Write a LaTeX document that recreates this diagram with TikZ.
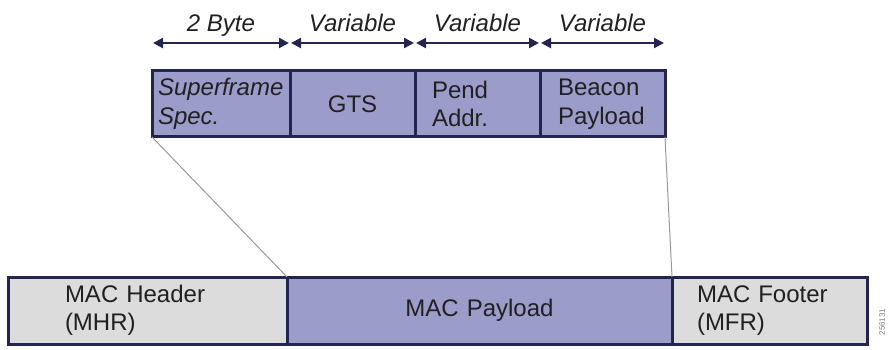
\documentclass[tikz,border=0pt]{standalone}
\usepackage{fontspec}
\setmainfont{Liberation Sans}
\usetikzlibrary{arrows.meta, positioning}

\definecolor{fieldblue}{HTML}{9C9CCB}
\definecolor{fieldgray}{HTML}{DCDCDC}
\definecolor{edgenavy}{HTML}{23244F}
\definecolor{textdark}{HTML}{202020}
\newcommand{\fieldfont}{\fontsize{24}{28.5}\selectfont}

\begin{document}
\begin{tikzpicture}[x=1pt, y=-1pt,
    field/.style={rectangle, draw=edgenavy, line width=3pt, fill=fieldblue, minimum height=66pt, inner ysep=2pt, outer sep=0pt, text=textdark, font=\fieldfont},
    header/.style={field, fill=fieldgray, minimum height=67pt},
    sizearrow/.style={{Triangle[length=10pt,width=10pt]}-{Triangle[length=10pt,width=10pt]}, line width=2.2pt, draw=edgenavy, shorten <=1pt, shorten >=1pt},
    sizelabel/.style={anchor=base, yshift=11pt, text=textdark, font={\fieldfont\itshape}},
    zoomline/.style={draw=gray!80, line width=1pt},
]
\useasboundingbox (0,0) rectangle (894,350);

% Beacon payload fields
\node[field, anchor=north west, text width=126pt, inner xsep=6pt, align=left, font={\fieldfont\itshape}] (sf) at (152,71) {Superframe\\Spec.};
\node[field, right=0pt of sf, text width=115pt, inner xsep=5pt, align=center] (gts) {GTS};
\node[field, right=0pt of gts, text width=91pt, inner xsep=17pt, align=left] (pend) {Pend\\Addr.};
\node[field, right=0pt of pend, text width=89pt, inner xsep=18pt, align=left] (beacon) {Beacon\\Payload};

% MAC frame
\node[header, anchor=north west, text width=165pt, inner xsep=57pt, align=left] (mhr) at (8,277) {MAC Header\\(MHR)};
\node[field, right=0pt of mhr, minimum height=67pt, text width=375pt, inner xsep=5pt, align=center] (payload) {MAC Payload};
\node[header, right=0pt of payload, text width=145pt, inner xsep=25pt, align=left] (mfr) {MAC Footer\\(MFR)};

% Field sizes
\coordinate (rule) at (0,43);
\draw[sizearrow] (sf.west |- rule) -- node[sizelabel] {2 Byte} (sf.east |- rule);
\draw[sizearrow] (gts.west |- rule) -- node[sizelabel] {Variable} (gts.east |- rule);
\draw[sizearrow] (pend.west |- rule) -- node[sizelabel] {Variable} (pend.east |- rule);
\draw[sizearrow] (beacon.west |- rule) -- node[sizelabel] {Variable} (beacon.east |- rule);

% Zoom lines
\draw[zoomline] (sf.south west) -- (mhr.north east);
\draw[zoomline] (beacon.south east) -- (payload.north east);

\node[rotate=90, font=\fontsize{8}{8}\selectfont, text=gray] (figid) at (882,322) {256131};

\end{tikzpicture}
\end{document}
